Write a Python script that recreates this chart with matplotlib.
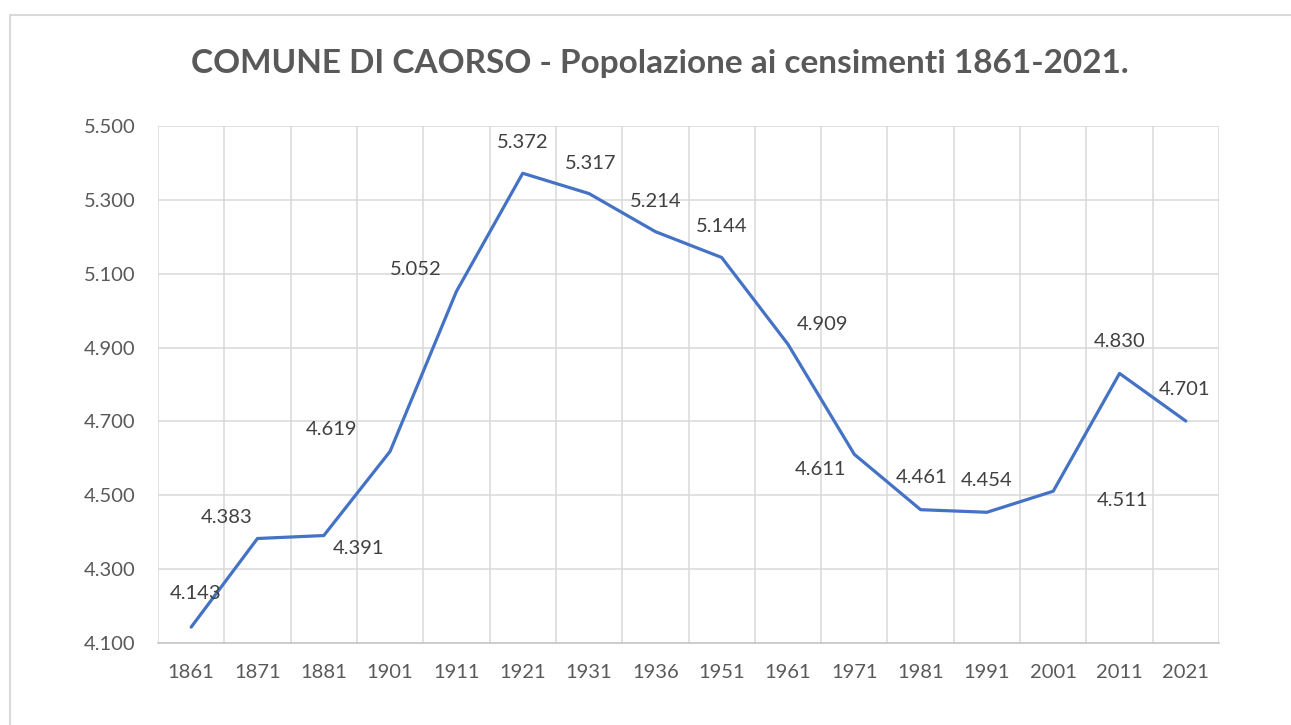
import matplotlib
matplotlib.use("Agg")
import matplotlib.pyplot as plt
from matplotlib.patches import Rectangle

years = ["1861", "1871", "1881", "1901", "1911", "1921", "1931", "1936",
         "1951", "1961", "1971", "1981", "1991", "2001", "2011", "2021"]
population = [4143, 4383, 4391, 4619, 5052, 5372, 5317, 5214,
              5144, 4909, 4611, 4461, 4454, 4511, 4830, 4701]
y_ticks = [4100, 4300, 4500, 4700, 4900, 5100, 5300, 5500]
title = "COMUNE DI CAORSO - Popolazione ai censimenti 1861-2021."

# label offsets in points (dx, dy) relative to each point
label_offsets = [(3, 24), (-22, 15), (25, -9), (-42, 16), (-29, 16), (0, 22),
                 (1, 22), (0, 22), (0, 22), (25, 14), (-24, -11), (1, 23),
                 (0, 23), (50, -7), (0, 23), (-1, 23)]

plt.rcParams['font.family'] = ['Lato', 'DejaVu Sans']

W, H = 1291, 725
fig = plt.figure(figsize=(W / 100, H / 100), dpi=100)
fig.patch.set_facecolor("white")

# outer chart border
fig.patches.append(Rectangle((10 / W, -0.1), 1.2, (H - 15) / H + 0.1,
                             transform=fig.transFigure, fill=False,
                             edgecolor="#D9D9D9", linewidth=1.5))

left, right, top, bottom = 158, 1219, 126, 643
ax = fig.add_axes([left / W, 1 - bottom / H, (right - left) / W, (bottom - top) / H])

x = list(range(len(years)))
ax.plot(x, population, color="#4472C4", linewidth=2.3, solid_capstyle="round",
        solid_joinstyle="round", zorder=3)

ax.set_xlim(-0.5, len(years) - 0.5)
ax.set_ylim(4100, 5500)
ax.set_yticks(y_ticks)
ax.set_yticklabels([f"{v:,}".replace(",", ".") for v in y_ticks])
ax.set_xticks(x)
ax.set_xticklabels(years)

ax.grid(False)
for v in y_ticks[1:]:
    ax.axhline(v, color="#D9D9D9", linewidth=1.1, zorder=1)
for i in range(len(years) + 1):
    ax.axvline(i - 0.5, color="#D9D9D9", linewidth=1.1, zorder=1)

for s in ["top", "right", "left"]:
    ax.spines[s].set_visible(False)
ax.spines["bottom"].set_color("#BFBFBF")
ax.spines["bottom"].set_linewidth(1.1)

ax.tick_params(axis="both", which="both", length=0, colors="#595959",
               labelsize=14.5)
ax.tick_params(axis="x", pad=15)
ax.tick_params(axis="y", pad=16)

for xi, v, (dx, dy) in zip(x, population, label_offsets):
    ax.annotate(f"{v:,}".replace(",", "."), (xi, v), xytext=(dx, dy),
                textcoords="offset points", ha="center", va="center",
                fontsize=14.5, color="#404040", zorder=4)

fig.text(660 / W, 1 - 63 / H, title, ha="center", va="center",
         fontsize=24, fontweight="bold", color="#595959")

fig.savefig("out.png", dpi=100, facecolor="white")
